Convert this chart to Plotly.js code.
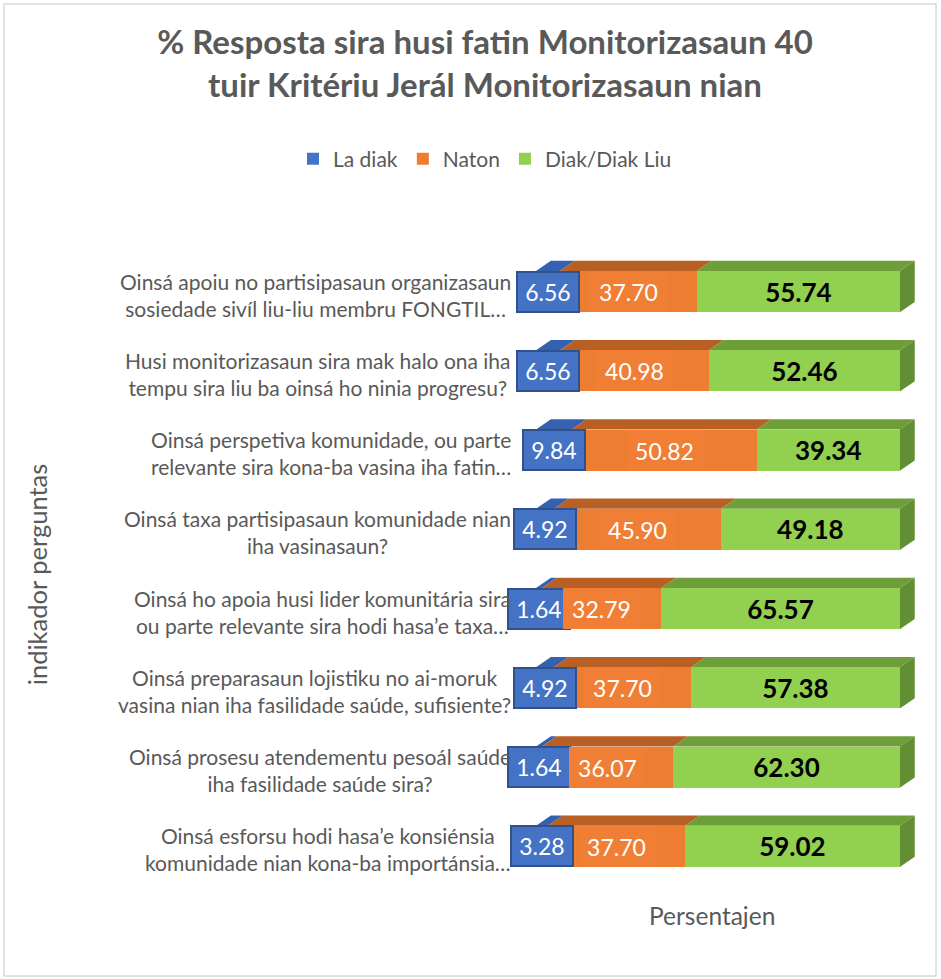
<!DOCTYPE html>
<html>
<head>
<meta charset="utf-8">
<script src="https://cdn.plot.ly/plotly-3.0.1.min.js"></script>
<style>html,body{margin:0;padding:0;background:#fff;}#chart{width:941px;height:979px;}</style>
</head>
<body>
<div id="chart"></div>
<script>
const categories = [
  "Oinsá apoiu no partisipasaun organizasaun<br>sosiedade sivíl liu-liu membru FONGTIL…",
  "Husi monitorizasaun sira mak halo ona iha<br>tempu sira liu ba oinsá ho ninia progresu?",
  "Oinsá perspetiva komunidade, ou parte<br>relevante sira kona-ba vasina iha fatin…",
  "Oinsá taxa partisipasaun komunidade nian<br>iha vasinasaun?",
  "Oinsá ho apoia husi lider komunitária sira<br>ou parte relevante sira hodi hasa’e taxa…",
  "Oinsá preparasaun lojistiku no ai-moruk<br>vasina nian iha fasilidade saúde, sufisiente?",
  "Oinsá prosesu atendementu pesoál saúde<br>iha fasilidade saúde sira?",
  "Oinsá esforsu hodi hasa’e konsiénsia<br>komunidade nian kona-ba importánsia…"
];
const seriesNames = ["La diak", "Naton", "Diak/Diak Liu"];
const laDiak = [6.56, 6.56, 9.84, 4.92, 1.64, 4.92, 1.64, 3.28];
const naton  = [37.70, 40.98, 50.82, 45.90, 32.79, 37.70, 36.07, 37.70];
const diak   = [55.74, 52.46, 39.34, 49.18, 65.57, 57.38, 62.30, 59.02];

const titleText = "<b>% Resposta sira husi fatin Monitorizasaun 40<br>tuir Kritériu Jerál Monitorizasaun nian</b>";
const yTitle = "indikador perguntas";
const xTitle = "Persentajen";

const FONT = "Lato, 'Open Sans', sans-serif";
const GRAY = "#595959";
const frontColors = ["#4472C4", "#ED7D31", "#92D050"];
const topColors = ["#3461B0", "#B85F24", "#6E9E3A"];
const sideColor = "#628F34";

const yIdx = categories.map((_, i) => i);
const BW = 0.52;      // bar thickness (category units)
const DX = 4.1;       // 3D depth in x (value units)
const DY = 0.13;      // 3D depth in y (category units)

const series = [laDiak, naton, diak];
const traces = series.map((vals, s) => ({
  type: "bar", orientation: "h", name: seriesNames[s],
  x: vals, y: yIdx, width: BW,
  marker: {color: frontColors[s], line: {width: 0}},
  hoverinfo: "skip",
  text: s === 2 ? vals.map(v => v.toFixed(2)) : undefined,
  texttemplate: s === 2 ? "<b>%{text}</b>" : undefined,
  textposition: s === 2 ? "inside" : "none",
  insidetextanchor: "middle",
  textangle: 0,
  textfont: {family: FONT, size: 26, color: "#000000"}
}));

const shapes = [];
const annotations = [];
yIdx.forEach(i => {
  const yTop = i - BW / 2, yBot = i + BW / 2;
  let base = 0;
  series.forEach((vals, s) => {
    const x0 = base, x1 = base + vals[i];
    shapes.push({
      type: "path", xref: "x", yref: "y", layer: "below",
      path: `M ${x0} ${yTop} L ${x1} ${yTop} L ${x1 + DX} ${yTop - DY} L ${x0 + DX} ${yTop - DY} Z`,
      fillcolor: topColors[s], line: {width: 0}
    });
    if (s === 0) {
      annotations.push({
        xref: "x", yref: "y", x: (x0 + x1) / 2, y: i, text: vals[i].toFixed(2),
        showarrow: false, font: {family: FONT, size: 23, color: "#ffffff"},
        bgcolor: "#4472C4", bordercolor: "#2F528F", borderwidth: 2, borderpad: 1,
        width: 58, height: 36, xanchor: "center", yanchor: "middle"
      });
    } else if (s === 1) {
      annotations.push({
        xref: "x", yref: "y", x: (x0 + x1) / 2, y: i, text: vals[i].toFixed(2),
        showarrow: false, font: {family: FONT, size: 23, color: "#ffffff"},
        bgcolor: "#F07F35", borderwidth: 0, borderpad: 1,
        width: 75, height: 39, xanchor: "center", yanchor: "middle"
      });
    }
    base = x1;
  });
  // right side face
  shapes.push({
    type: "path", xref: "x", yref: "y", layer: "below",
    path: `M ${base} ${yTop} L ${base + DX} ${yTop - DY} L ${base + DX} ${yBot - DY} L ${base} ${yBot} Z`,
    fillcolor: sideColor, line: {width: 0}
  });
  // category label
  annotations.push({
    xref: "paper", yref: "y", x: -0.0602, y: i, yshift: -3, text: categories[i],
    showarrow: false, xanchor: "right", yanchor: "middle", align: "center",
    font: {family: FONT, size: 21, color: GRAY}
  });
});

// axis titles
annotations.push({
  xref: "paper", yref: "paper", x: -1.306, y: 0.492, text: yTitle, textangle: -90,
  showarrow: false, xanchor: "center", yanchor: "middle",
  font: {family: FONT, size: 25.5, color: GRAY}
});
annotations.push({
  xref: "paper", yref: "paper", x: 0.4607, y: -0.046, text: xTitle,
  showarrow: false, xanchor: "center", yanchor: "middle",
  font: {family: FONT, size: 24.5, color: GRAY}
});

// chart frame
shapes.push({
  type: "rect", xref: "paper", yref: "paper",
  x0: (4 - 536) / 382, x1: (936 - 536) / 382,
  y0: (886 - 976) / 634, y1: (886 - 4) / 634,
  line: {color: "#D9D9D9", width: 1.5}, fillcolor: "rgba(0,0,0,0)", layer: "below"
});

const layout = {
  width: 941, height: 979,
  margin: {l: 536, r: 23, t: 252, b: 93, pad: 0},
  paper_bgcolor: "#ffffff", plot_bgcolor: "#ffffff",
  barmode: "stack", bargap: 0.48,
  title: {
    text: titleText, xref: "container", yref: "container",
    x: 0.5154, y: 1 - 54 / 979, xanchor: "center", yanchor: "middle",
    font: {family: FONT, size: 33, color: GRAY}
  },
  xaxis: {range: [0, 105], showgrid: false, zeroline: false, showticklabels: false, showline: false, ticks: ""},
  yaxis: {range: [7.5, -0.5], showgrid: false, zeroline: false, showticklabels: false, showline: false, ticks: "",
          tickvals: yIdx, ticktext: categories},
  showlegend: true,
  legend: {orientation: "h", x: -0.1335, xanchor: "center", y: 1.1467, yanchor: "middle",
           traceorder: "normal", font: {family: FONT, size: 21, color: GRAY}, itemwidth: 30},
  shapes: shapes, annotations: annotations, hovermode: false
};

Plotly.newPlot("chart", traces, layout, {displayModeBar: false, staticPlot: true});
</script>
</body>
</html>
